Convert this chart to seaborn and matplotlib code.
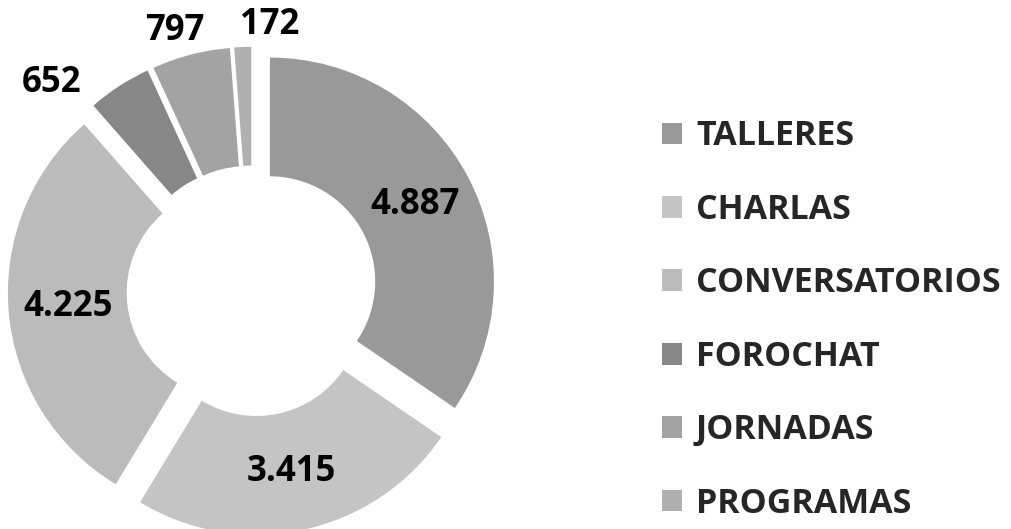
import numpy as np
import matplotlib
matplotlib.use('Agg')
import matplotlib.pyplot as plt
import seaborn as sns

categories = ['TALLERES', 'CHARLAS', 'CONVERSATORIOS', 'FOROCHAT', 'JORNADAS', 'PROGRAMAS']
values = [4887, 3415, 4225, 652, 797, 172]
gray_levels = ['#999999', '#c4c4c4', '#bbbbbb', '#878787', '#a3a3a3', '#b0b0b0']

sns.set_theme(style='white')
plt.rcParams['font.family'] = ['Open Sans', 'DejaVu Sans']

fig = plt.figure(figsize=(10.11, 5.29), dpi=100)

# Pie area on the left; scale is 224 px per unit radius
ax = fig.add_axes([0, 0, 505 / 1011, 1])
explode = 0.09
wedges, _ = ax.pie(
    values,
    colors=sns.color_palette(gray_levels),
    startangle=90,
    counterclock=False,
    explode=[explode] * len(values),
    radius=1.0,
    wedgeprops=dict(width=0.53, edgecolor='none'),
)
ax.set_xlim(-1.125, 1.129)
ax.set_ylim(-1.0625, 1.299)
ax.set_aspect('auto')

# Value labels: inside for big slices, outside for the small ones
outside_nudge = {3: (11, 1.29), 4: (2, 1.21), 5: (-6, 1.19)}
for i, (w, v) in enumerate(zip(wedges, values)):
    mid = np.deg2rad((w.theta1 + w.theta2) / 2)
    txt = f'{v:,}'.replace(',', '.')
    if i in outside_nudge:
        dang, rad = outside_nudge[i]
        a = mid + np.deg2rad(dang)
        x, y = rad * np.cos(a), rad * np.sin(a)
    else:
        x = (explode + 0.735) * np.cos(mid)
        y = (explode + 0.735) * np.sin(mid)
    ax.text(x, y, txt, ha='center', va='center', fontsize=25,
            fontweight='bold', color='black')

# Legend on the right
fig.legend(
    wedges, categories,
    loc='center left',
    bbox_to_anchor=(662 / 1011, 1 - 320 / 529),
    frameon=False,
    prop=dict(family=['Open Sans', 'DejaVu Sans'], weight='bold', size=24.5),
    handlelength=0.6, handleheight=0.6,
    handletextpad=0.4,
    labelspacing=1.16,
    borderpad=0, borderaxespad=0,
)

fig.savefig('out.png', dpi=100, facecolor='white')
